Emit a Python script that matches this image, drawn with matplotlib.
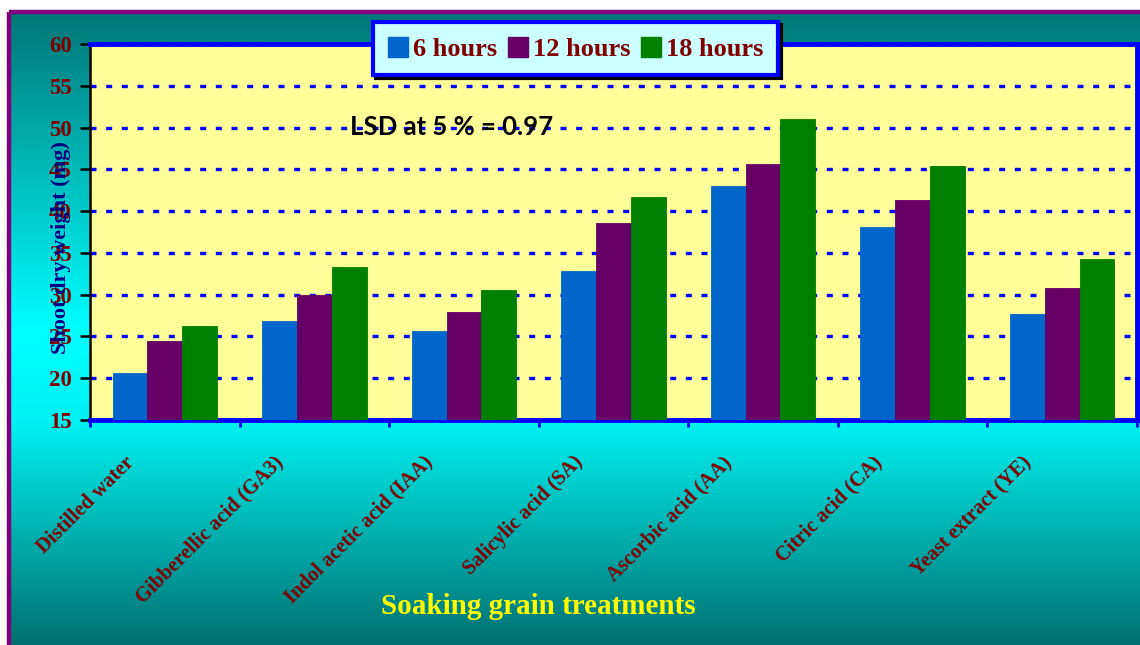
import numpy as np
import matplotlib
matplotlib.use('Agg')
import matplotlib.pyplot as plt
from matplotlib.transforms import offset_copy
from matplotlib.patches import Rectangle, Patch

# ---------------- data ----------------
categories = ["Distilled water", "Gibberellic acid (GA3)", "Indol acetic acid (IAA)",
              "Salicylic acid (SA)", "Ascorbic acid (AA)", "Citric acid (CA)",
              "Yeast extract (YE)"]
series_names = ["6 hours", "12 hours", "18 hours"]
h6 = [20.6, 26.8, 25.6, 32.8, 43.0, 38.1, 27.7]
h12 = [24.4, 30.0, 27.9, 38.6, 45.6, 41.3, 30.8]
h18 = [26.3, 33.3, 30.5, 41.7, 51.0, 45.4, 34.3]
y_ticks = [15, 20, 25, 30, 35, 40, 45, 50, 55, 60]
lsd_text = "LSD at 5 % = 0.97"
y_label = "Shoot dry weight (mg)"
x_label = "Soaking grain treatments"

series_colors = ["#0066CC", "#660066", "#008000"]

plt.rcParams['font.family'] = ['Liberation Serif', 'DejaVu Serif']
plt.rcParams['font.weight'] = 'bold'

W, H = 1140, 645
fig = plt.figure(figsize=(W / 100, H / 100), dpi=100)
fig.patch.set_facecolor('white')

# ---------------- background ----------------
bg = fig.add_axes([0, 0, 1, 1])
bg.set_xlim(0, W)
bg.set_ylim(H, 0)
bg.axis('off')
ys = np.linspace(12, H, 500)
node_y = [12, 330, 420, H]
node_g = [0x75, 0xFF, 0xF2, 0x70]
g = np.interp(ys, node_y, node_g) / 255
grad = np.zeros((len(ys), 1, 3))
grad[:, 0, 1] = g
grad[:, 0, 2] = g
bg.imshow(grad, extent=(9, W + 5, H, 12), aspect='auto', interpolation='bilinear')
bg.add_patch(Rectangle((9, 12), W + 20, H + 20, fill=False, edgecolor='#800080', lw=3.2))

# ---------------- main axes ----------------
ax = fig.add_axes([90 / W, (H - 420) / H, (1137 - 90) / W, (420 - 44) / H])
ax.set_facecolor('#FFFF99')
x = np.arange(len(categories))
w = 0.233
for k, (vals, c) in enumerate(zip([h6, h12, h18], series_colors)):
    ax.bar(x + (k - 1) * w, vals, w, color=c, edgecolor=c, linewidth=0.6, zorder=3)

ax.set_xlim(-0.5, len(categories) - 0.5)
ax.set_ylim(15, 60)
ax.set_yticks(y_ticks)
ax.set_xticks(np.arange(-0.5, len(categories), 1))
ax.tick_params(axis='x', direction='out', length=5, width=2, color='blue', labelbottom=False)
ax.tick_params(axis='y', direction='out', length=7, width=1.8, color='black',
               labelcolor='#800000', labelsize=16.5, pad=6)
for lab in ax.get_yticklabels():
    lab.set_fontweight('bold')

ax.yaxis.grid(True, color='blue', linewidth=2.4, linestyle=(0, (1.8, 2.9)))
ax.set_axisbelow(True)

for s in ['top', 'right', 'bottom']:
    ax.spines[s].set_color('blue')
    ax.spines[s].set_linewidth(3.5)
ax.spines['left'].set_color('black')
ax.spines['left'].set_linewidth(1.8)

# category labels
tr = offset_copy(ax.get_xaxis_transform(), fig=fig, x=-41, y=0, units='dots')
for i, c in enumerate(categories):
    ax.text(i, -0.086, c, transform=tr, rotation=45, rotation_mode='anchor',
            ha='right', va='top', fontsize=14.8, color='#800000', fontweight='bold',
            clip_on=False)

ax.text(0.345, 0.779, lsd_text, transform=ax.transAxes, ha='center', va='center',
        fontsize=18.5, family=['Lato', 'DejaVu Sans'], fontweight='bold', color='black', zorder=1)

fig.text(61 / W, 1 - 248 / H, y_label, rotation=90, ha='center', va='center',
         fontsize=16, color='#000080', fontweight='bold')
fig.text(538 / W, 1 - 607 / H, x_label, ha='center', va='center',
         fontsize=21, color='#FFFF00', fontweight='bold')

# legend
handles = [Patch(facecolor=c, edgecolor=c) for c in series_colors]
leg = fig.legend(handles, series_names, loc='upper left',
                 bbox_to_anchor=(373 / W, 1 - 22 / H), bbox_transform=fig.transFigure,
                 ncol=3, frameon=True, facecolor='#CCFFFF', edgecolor='blue', framealpha=1,
                 fancybox=False, shadow={'color': 'black', 'alpha': 1},
                 prop=dict(size=19, weight='bold'), labelcolor='#800000',
                 handlelength=0.76, handleheight=0.8, handletextpad=0.2,
                 columnspacing=0.4, borderpad=0.55, borderaxespad=0)
leg.get_frame().set_linewidth(3)

fig.savefig('out.png', dpi=100)
